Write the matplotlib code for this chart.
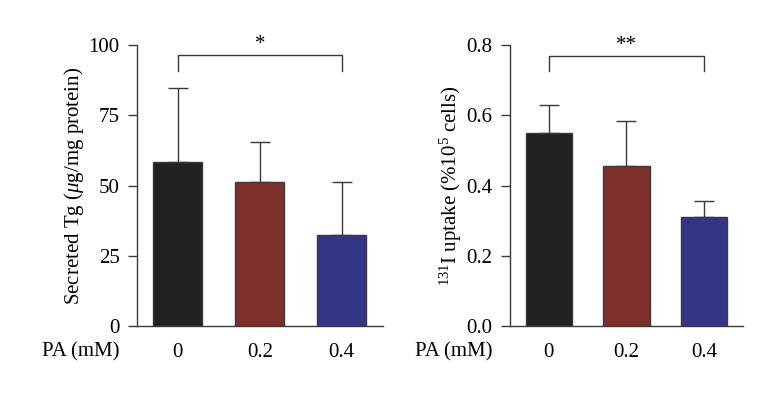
import matplotlib.pyplot as plt

plt.rcParams['font.family'] = 'Liberation Serif'
plt.rcParams['mathtext.fontset'] = 'custom'
plt.rcParams['mathtext.rm'] = 'Liberation Serif'
plt.rcParams['mathtext.it'] = 'Liberation Serif:italic'

# Datos
pa_labels = ["0", "0.2", "0.4"]
bar_colors = ["#222222", "#80302b", "#333687"]

tg_mean = [58.3, 51.4, 32.4]
tg_err = [26.3, 14.0, 19.0]

uptake_mean = [0.549, 0.456, 0.311]
uptake_err = [0.081, 0.128, 0.045]

fig = plt.figure(figsize=(7.78, 3.94), dpi=100)
ax1 = fig.add_axes([0.176, 0.1726, 0.316, 0.713])
ax2 = fig.add_axes([0.6555, 0.1726, 0.2995, 0.713])

edge = "#3a3a3a"
fs = 15
xpad = 12
ytick_len = 6.5
ytick_pad = 6


def draw_panel(ax, means, errs, ylim, yticks, yticklabels, ylabel, bracket, stars):
    x = range(len(means))
    ax.bar(x, means, width=0.6, color=bar_colors, edgecolor=edge, linewidth=1.0, zorder=2)
    ax.errorbar(x, means, yerr=[[0] * len(errs), errs], fmt='none', ecolor=edge,
                elinewidth=1.0, capsize=7.2, capthick=1.0, zorder=1)
    ax.set_xlim(-0.5, 2.5)
    ax.set_ylim(*ylim)
    ax.set_yticks(yticks)
    ax.set_yticklabels(yticklabels, fontsize=fs)
    ax.set_xticks(list(x))
    ax.set_xticklabels(pa_labels, fontsize=fs)
    ax.tick_params(axis='x', length=0, pad=xpad)
    ax.tick_params(axis='y', length=ytick_len, width=1.0, color=edge, pad=ytick_pad)
    for s in ['top', 'right']:
        ax.spines[s].set_visible(False)
    for s in ['left', 'bottom']:
        ax.spines[s].set_color(edge)
        ax.spines[s].set_linewidth(1.0)
    ax.set_ylabel(ylabel, fontsize=fs, labelpad=2)
    # etiqueta "PA (mM)" alineada con las etiquetas del eje y
    ax.annotate("PA (mM)", xy=(0, 0), xycoords='axes fraction',
                xytext=(-(ytick_len + ytick_pad), -xpad), textcoords='offset points',
                fontsize=fs, ha='right', va='top')
    top, low = bracket
    ax.plot([0, 0, 2, 2], [low, top, top, low], color=edge, lw=1.0, clip_on=False)
    ax.text(1, top + (ylim[1] - ylim[0]) * 0.003, stars, ha='center', va='bottom',
            fontsize=fs)


draw_panel(ax1, tg_mean, tg_err, (0, 100), [0, 25, 50, 75, 100],
           ["0", "25", "50", "75", "100"],
           r"Secreted Tg ($\mu$g/mg protein)", (96.4, 90.9), "*")
draw_panel(ax2, uptake_mean, uptake_err, (0, 0.8), [0, 0.2, 0.4, 0.6, 0.8],
           ["0.0", "0.2", "0.4", "0.6", "0.8"],
           r"$^{131}$I uptake (%10$^5$ cells)", (0.769, 0.726), "**")

fig.savefig("out.png", dpi=100)
